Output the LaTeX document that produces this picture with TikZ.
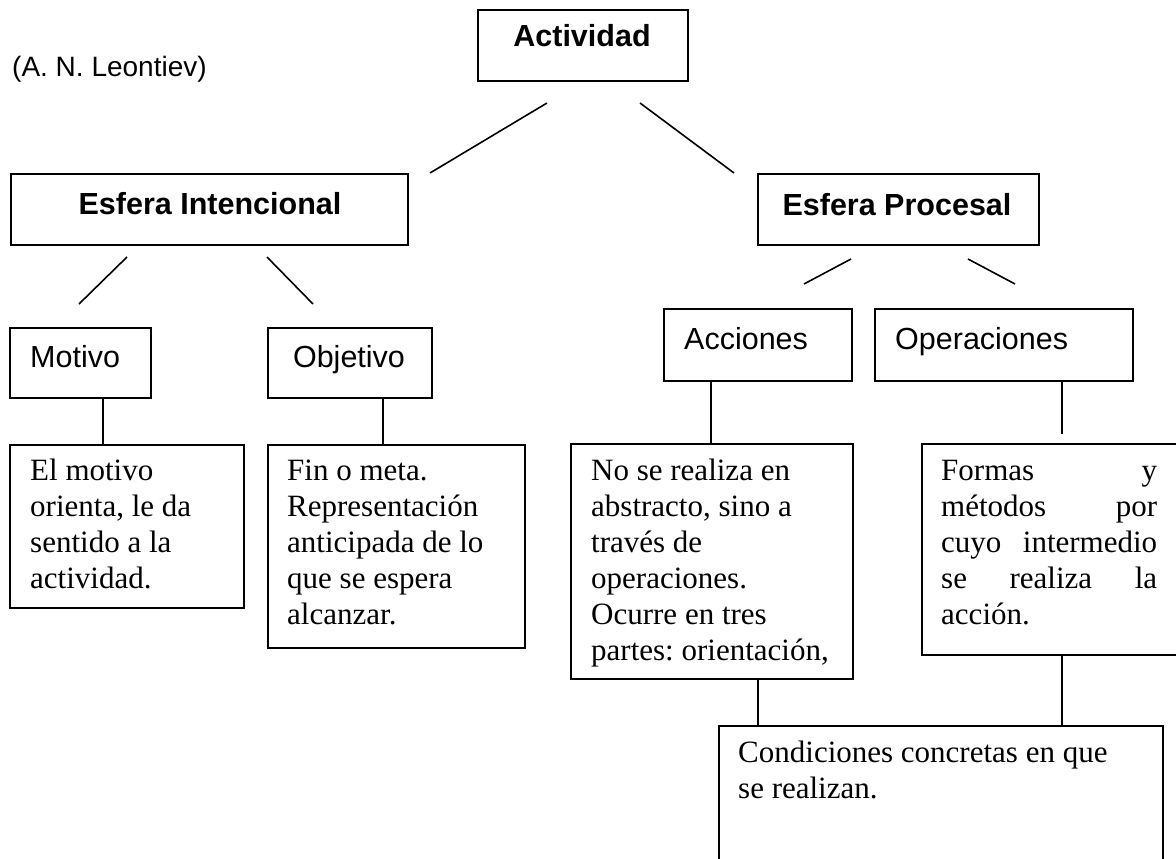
\documentclass[tikz,border=0pt]{standalone}
\usepackage{fontspec}
\setmainfont{Liberation Serif}
\newfontfamily\arialf{Liberation Sans}
\frenchspacing
\begin{document}
\begin{tikzpicture}[x=1pt,y=-1pt,
  box/.style={draw=black,line width=1.6pt,inner sep=0pt,anchor=north west},
  conn/.style={draw=black,line width=1.6pt},
  headlbl/.style={font=\arialf\bfseries\fontsize{30.5}{36}\selectfont,inner sep=0pt,anchor=base},
  sublbl/.style={font=\arialf\fontsize{30.5}{36}\selectfont,inner sep=0pt,anchor=base west},
  authlbl/.style={font=\arialf\fontsize{28}{33}\selectfont,inner sep=0pt,anchor=base west},
  bodyline/.style={font=\fontsize{31}{36}\selectfont,inner sep=0pt,anchor=base west}]
\useasboundingbox (0,0) rectangle (1176,859);
\fill[white] (0,0) rectangle (1176,859);
\clip (0,0) rectangle (1176,859);

% boxes
\node[box,minimum width=210pt,minimum height=71pt] (act) at (477,9) {};
\node[box,minimum width=397pt,minimum height=71pt] (ei) at (10,173) {};
\node[box,minimum width=281pt,minimum height=71pt] (ep) at (757,173) {};
\node[box,minimum width=141pt,minimum height=70pt] (mot) at (9,327) {};
\node[box,minimum width=164pt,minimum height=70pt] (obj) at (267,327) {};
\node[box,minimum width=188pt,minimum height=72pt] (acc) at (663,308) {};
\node[box,minimum width=258pt,minimum height=72pt] (ope) at (874,308) {};
\node[box,minimum width=234pt,minimum height=163pt] (elm) at (9,444) {};
\node[box,minimum width=257pt,minimum height=203pt] (fin) at (267,444) {};
\node[box,minimum width=282pt,minimum height=235pt] (nosr) at (570,443) {};
\node[box,minimum width=280pt,minimum height=211pt] (form) at (921,443) {};
\node[box,minimum width=444pt,minimum height=200pt] (cond) at (718,725) {};

% labels
\node[authlbl] (leon) at (12,77) {(A. N. Leontiev)};
\node[headlbl] (actT) at (582,47) {Actividad};
\node[headlbl] (eiT) at (210,214) {Esfera Intencional};
\node[headlbl] (epT) at (897,215) {Esfera Procesal};
\node[sublbl] (motT) at (30,367) {Motivo};
\node[sublbl,anchor=base] (objT) at (349,367) {Objetivo};
\node[sublbl] (accT) at (684,349) {Acciones};
\node[sublbl] (opeT) at (895,349) {Operaciones};

\node[bodyline] (elm1) at (30,480) {El motivo};
\node[bodyline] (elm2) at (30,516) {orienta, le da};
\node[bodyline] (elm3) at (30,552) {sentido a la};
\node[bodyline] (elm4) at (30,588) {actividad.};

\node[bodyline] (fin1) at (287,480) {Fin o meta.};
\node[bodyline] (fin2) at (287,516) {Representación};
\node[bodyline] (fin3) at (287,552) {anticipada de lo};
\node[bodyline] (fin4) at (287,588) {que se espera};
\node[bodyline] (fin5) at (287,624) {alcanzar.};

\node[bodyline] (nos1) at (591,480) {No se realiza en};
\node[bodyline] (nos2) at (591,516) {abstracto, sino a};
\node[bodyline] (nos3) at (591,552) {través de};
\node[bodyline] (nos4) at (591,588) {operaciones.};
\node[bodyline] (nos5) at (591,624) {Ocurre en tres};
\node[bodyline] (nos6) at (591,660) {partes: orientación,};

\node[bodyline] (frm1) at (941,480) {\hbox to 216pt{Formas\hfill y}};
\node[bodyline] (frm2) at (941,516) {\hbox to 216pt{métodos\hfill por}};
\node[bodyline] (frm3) at (941,552) {\hbox to 216pt{cuyo\hfill intermedio}};
\node[bodyline] (frm4) at (941,588) {\hbox to 216pt{se\hfill realiza\hfill la}};
\node[bodyline] (frm5) at (941,624) {acción.};

\node[bodyline] (cnd1) at (738,762) {Condiciones concretas en que};
\node[bodyline] (cnd2) at (738,798) {se realizan.};

% free-floating diagonal connectors
\coordinate (d1a) at (547,103); \coordinate (d1b) at (430,173);
\coordinate (d2a) at (640,103); \coordinate (d2b) at (734,173);
\coordinate (d3a) at (127,257); \coordinate (d3b) at (79,304);
\coordinate (d4a) at (267,257); \coordinate (d4b) at (313,304);
\coordinate (d5a) at (851,259); \coordinate (d5b) at (804,284);
\coordinate (d6a) at (968,259); \coordinate (d6b) at (1015,284);
\draw[conn] (d1a) -- (d1b);
\draw[conn] (d2a) -- (d2b);
\draw[conn] (d3a) -- (d3b);
\draw[conn] (d4a) -- (d4b);
\draw[conn] (d5a) -- (d5b);
\draw[conn] (d6a) -- (d6b);

% vertical connectors
\coordinate (v1) at (103,0);
\coordinate (v2) at (383,0);
\coordinate (v3) at (711,0);
\coordinate (v4) at (1062,0);
\coordinate (v5) at (758,0);
\coordinate (opeEnd) at (1062,434);
\draw[conn] (mot.south -| v1) -- (elm.north -| v1);
\draw[conn] (obj.south -| v2) -- (fin.north -| v2);
\draw[conn] (acc.south -| v3) -- (nosr.north -| v3);
\draw[conn] (ope.south -| v4) -- (opeEnd);
\draw[conn] (nosr.south -| v5) -- (cond.north -| v5);
\draw[conn] (form.south -| v4) -- (cond.north -| v4);
\end{tikzpicture}
\end{document}
